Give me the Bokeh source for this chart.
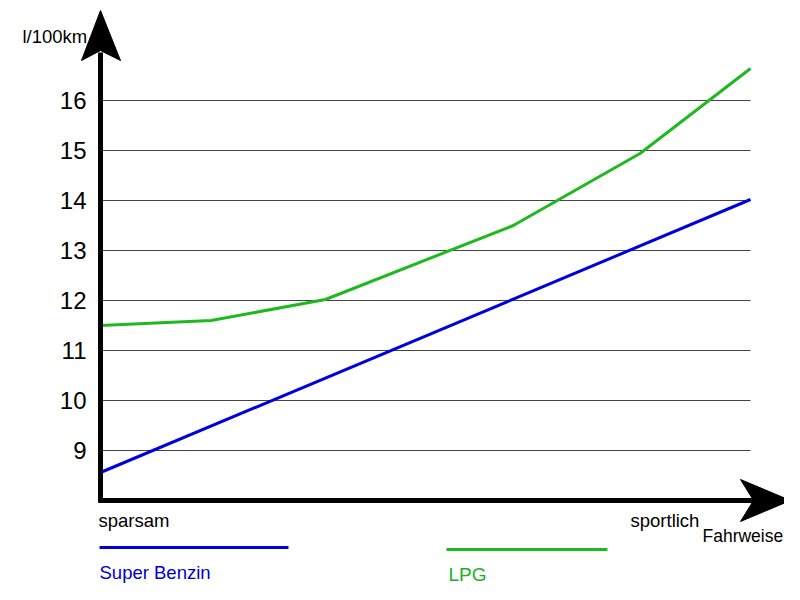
from bokeh.plotting import figure
from bokeh.models import Range1d
from bokeh.core.properties import value
from bokeh.embed import file_html
from bokeh.resources import INLINE

# ---- data ----
y_ticks = [9, 10, 11, 12, 13, 14, 15, 16]
benzin_x = [0, 100]
benzin_y = [8.56, 14.02]
lpg_x = [0, 17, 34.6, 63.5, 83, 100]
lpg_y = [11.5, 11.6, 12.02, 13.5, 14.94, 16.64]
x_labels = ["sparsam", "sportlich"]
y_title = "l/100km"
x_title = "Fahrweise"
series_names = ["Super Benzin", "LPG"]

BLUE = "#0000dc"
GREEN = "#1fb91f"
FONT = value("Liberation Sans")

W, H = 784, 584
M = 0  # picture offset of the figure
# mapping image pixel -> data
X0, XS = 100, 6.5
Y0, YS = 500, 50.0


def px(ix):
    return (ix - X0) / XS


def py(iy):
    return 8 + (Y0 - iy) / YS


p = figure(width=W, height=H, output_backend="svg", toolbar_location=None,
           x_range=Range1d(px(M), px(M + W)), y_range=Range1d(py(M + H), py(M)),
           x_axis_type=None, y_axis_type=None, min_border=0)
p.outline_line_color = None
p.grid.visible = False
p.background_fill_color = "white"
p.border_fill_color = "white"

# gridlines
p.segment(x0=[0] * len(y_ticks), x1=[100] * len(y_ticks), y0=y_ticks, y1=y_ticks,
          line_color="#444444", line_width=1)

# tick labels
p.text(x=[px(86)] * len(y_ticks), y=y_ticks, text=[str(t) for t in y_ticks],
       text_align="right", text_baseline="middle", text_font=FONT,
       text_font_size=value("24px"), text_color="black")

# data lines
p.line(benzin_x, benzin_y, line_color=BLUE, line_width=3)
p.line(lpg_x, lpg_y, line_color=GREEN, line_width=3)

# axes
p.line([px(100), px(100)], [py(502), py(52)], line_color="black", line_width=5)
p.line([px(98), px(755)], [py(500), py(500)], line_color="black", line_width=5)
p.patch([px(100), px(81), px(100), px(120)], [py(10), py(60), py(50), py(60)],
        fill_color="black", line_color="black")
p.patch([px(790), px(740), px(753), px(740)], [py(500), py(479), py(500), py(521)],
        fill_color="black", line_color="black")

# axis texts
p.text(x=[px(22)], y=[py(36)], text=[y_title], text_align="left",
       text_baseline="alphabetic", text_font=FONT, text_font_size=value("18.5px"),
       text_color="black")
p.text(x=[px(98), px(630)], y=[py(520), py(520)], text=x_labels, text_align="left",
       text_baseline="alphabetic", text_font=FONT, text_font_size=value("18.5px"),
       text_color="black")
p.text(x=[px(702)], y=[py(535)], text=[x_title], text_align="left",
       text_baseline="alphabetic", text_font=FONT, text_font_size=value("17.5px"),
       text_color="black")

# legend
p.line([px(99), px(288)], [py(547), py(547)], line_color=BLUE, line_width=3)
p.line([px(446), px(607)], [py(549), py(549)], line_color=GREEN, line_width=3)
p.text(x=[px(99)], y=[py(572)], text=[series_names[0]], text_align="left",
       text_baseline="alphabetic", text_font=FONT, text_font_size=value("18.5px"),
       text_color="#0000cc")
p.text(x=[px(448)], y=[py(574)], text=[series_names[1]], text_align="left",
       text_baseline="alphabetic", text_font=FONT, text_font_size=value("19px"),
       text_color="#20b020")

open("out.html", "w").write(file_html(p, INLINE))
